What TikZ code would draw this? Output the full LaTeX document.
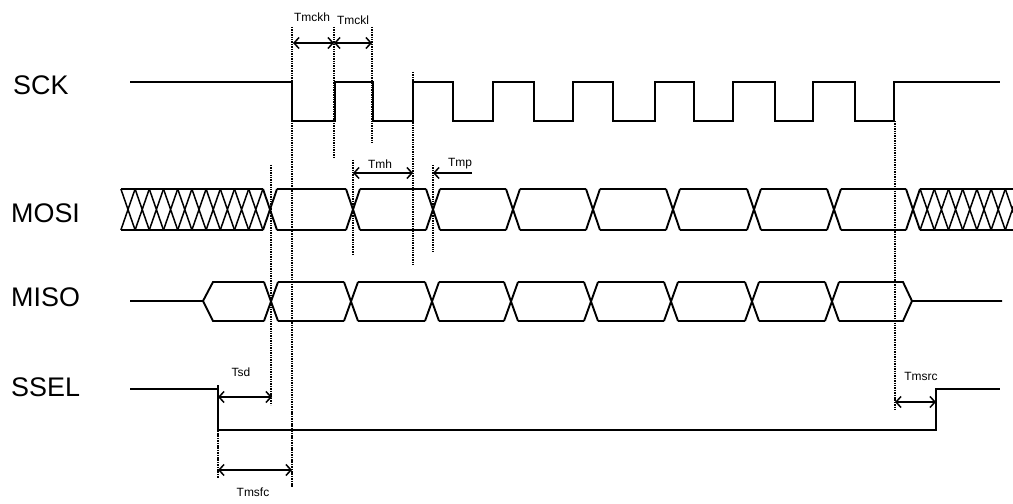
\documentclass[tikz,border=0pt]{standalone}
\usepackage{fontspec}
\setmainfont{Liberation Sans}
\usetikzlibrary{arrows.meta}

\begin{document}
\begin{tikzpicture}[x=1bp, y=-1bp,
                    wave/.style={line width=1.9bp},
                    hatch/.style={line width=1.5bp},
                    guide/.style={line width=1.5bp, dash pattern=on 1.5bp off 0.9bp},
                    barb/.tip={Straight Barb[length=5bp,width=11bp]},
                    dimline/.style={line width=1.5bp, barb-barb},
                    signame/.style={font=\fontsize{27}{27}\selectfont, anchor=west, inner sep=0pt},
                    tname/.style={font=\fontsize{12}{12}\selectfont, inner sep=0pt}]
                      \useasboundingbox (0,0) rectangle (1013,504);

                      % signal names
                      \node[signame] (SCK) at (13,85) {SCK};
                      \node[signame] (MOSI) at (11,213) {MOSI};
                      \node[signame] (MISO) at (11,297) {MISO};
                      \node[signame] (SSEL) at (11,387) {SSEL};

                      % SCK
                      \draw[wave] (130,82) \foreach \f/\r in {292/335, 373/413, 453/493, 534/573,
                              613/655, 694/733, 775/813, 855/894} {
                              -- (\f,82) -- (\f,121) -- (\r,121) -- (\r,82)
                          } -- (1000,82);

                      % MOSI
                      \draw[hatch] (121,189) -- (263,189) (121,230) -- (263,230);
                      \foreach \k in {1,...,10} {
                              \draw[hatch] ({270-14.2*\k-7.1},189) -- ({270-14.2*\k+7.1},230)
                                  ({270-14.2*\k-7.1},230) -- ({270-14.2*\k+7.1},189);
                          }
                      \draw[hatch] (920,189) -- (1013,189) (920,230) -- (1013,230);
                      \foreach \k in {1,...,7} {
                              \draw[hatch] ({913+14.2*\k-7.1},189) -- ({913+14.2*\k+7.1},230)
                                  ({913+14.2*\k-7.1},230) -- ({913+14.2*\k+7.1},189);
                          }
                      \foreach \c in {270, 353, 433, 513, 593, 673, 754, 834, 913} {
                              \draw[wave] (\c-7,189) -- (\c+7,230) (\c-7,230) -- (\c+7,189);
                          }
                      \foreach \a/\b in {270/353, 353/433, 433/513, 513/593, 593/673,
                              673/754, 754/834, 834/913} {
                              \draw[wave] (\a+7,189) -- (\b-7,189) (\a+7,230) -- (\b-7,230);
                          }

                      % MISO
                      \draw[wave] (130,301) -- (203,301) -- (213,282) -- (264,282);
                      \draw[wave] (203,301) -- (213,321) -- (264,321);
                      \foreach \c in {271, 351, 432, 511, 591, 671, 752, 832} {
                              \draw[wave] (\c-7,282) -- (\c+7,321) (\c-7,321) -- (\c+7,282);
                          }
                      \foreach \a/\b in {271/351, 351/432, 432/511, 511/591, 591/671,
                              671/752, 752/832} {
                              \draw[wave] (\a+7,282) -- (\b-7,282) (\a+7,321) -- (\b-7,321);
                          }
                      \draw[wave] (839,282) -- (903,282) -- (912,301) -- (1002,301);
                      \draw[wave] (839,321) -- (903,321) -- (912,301);

                      % SSEL
                      \draw[wave] (130,389) -- (218,389) -- (218,430) -- (936,430) -- (936,389) -- (1000,389);

                      % guide lines
                      \foreach \x/\ya/\yb in {218/385/478, 271/165/405, 292/27/487, 334/27/158,
                              372/27/143, 413/72/265, 353/160/255, 433/165/252, 895/121/410} {
                              \draw[guide] (\x,\ya) -- (\x,\yb);
                          }

                      % timing arrows
                      \coordinate (ckA) at (293,43);
                      \coordinate (ckB) at (334,43);
                      \coordinate (ckC) at (372,43);
                      \coordinate (mhA) at (353,173);
                      \coordinate (mhB) at (413,173);
                      \coordinate (mpA) at (472,173);
                      \coordinate (mpB) at (433,173);
                      \coordinate (sdA) at (218,397);
                      \coordinate (sdB) at (272,397);
                      \coordinate (sfA) at (218,470);
                      \coordinate (sfB) at (292,470);
                      \coordinate (srA) at (895,402);
                      \coordinate (srB) at (936,402);

                      \foreach \i/\j in {ckA/ckB, ckB/ckC, mhA/mhB, sdA/sdB, sfA/sfB, srA/srB} {
                              \draw[dimline] (\i) -- (\j);
                          }
                      \draw[line width=1.5bp, -barb] (mpA) -- (mpB);

                      \node[tname] (Tmckh) at (312,17) {Tmckh};
                      \node[tname] (Tmckl) at (353,20) {Tmckl};
                      \node[tname] (Tmh) at (380,164) {Tmh};
                      \node[tname] (Tmp) at (460,164) {Tmp};
                      \node[tname] (Tsd) at (241,372) {Tsd};
                      \node[tname] (Tmsfc) at (253,492) {Tmsfc};
                      \node[tname] (Tmsrc) at (921,376) {Tmsrc};
                  \end{tikzpicture}
\end{document}
